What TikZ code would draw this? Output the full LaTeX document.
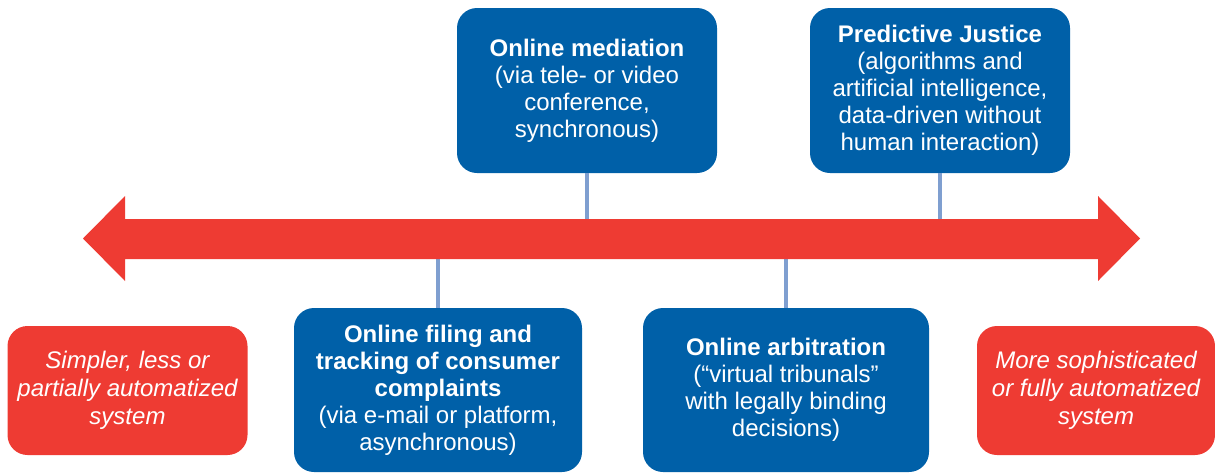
\documentclass[tikz,border=0pt]{standalone}
\usepackage{fontspec}
\setmainfont{Liberation Sans}
\definecolor{boxblue}{HTML}{0060A8}
\definecolor{arrowred}{HTML}{EE3B33}
\definecolor{connblue}{HTML}{7F9FD0}
\tikzset{
  bluebox/.style={fill=boxblue, rounded corners=20pt, text=white, align=center,
    font=\fontsize{24}{27}\selectfont, inner sep=0pt},
  redbox/.style={fill=arrowred, rounded corners=20pt, text=white, align=center,
    font=\fontsize{24}{28}\selectfont\itshape, inner sep=0pt},
  conn/.style={draw=connblue, line width=4pt}
}
\begin{document}
\begin{tikzpicture}[x=1pt,y=-1pt]
\useasboundingbox (0,0) rectangle (1215,472);
% boxes
\node[bluebox, minimum width=260pt, minimum height=165pt] (med) at (587,90.5)
  {\textbf{Online mediation}\\(via tele- or video\\conference,\\synchronous)};
\node[bluebox, minimum width=260pt, minimum height=165pt] (pred) at (940,90.5)
  {\textbf{Predictive Justice}\\(algorithms and\\artificial intelligence,\\data-driven without\\human interaction)};
\node[bluebox, minimum width=288pt, minimum height=164pt] (fil) at (438,390)
  {\textbf{Online filing and}\\\textbf{tracking of consumer}\\\textbf{complaints}\\(via e-mail or platform,\\asynchronous)};
\node[bluebox, minimum width=286pt, minimum height=164pt] (arb) at (786,390)
  {\textbf{Online arbitration}\\(“virtual tribunals”\\with legally binding\\decisions)};
\node[redbox, minimum width=240pt, minimum height=129pt] (simple) at (127.5,390.5)
  {Simpler, less or\\partially automatized\\system};
\node[redbox, minimum width=238pt, minimum height=129pt] (soph) at (1096,390.5)
  {More sophisticated\\or fully automatized\\system};
% arrow anchors
\coordinate (shafttop) at (0,225);
\coordinate (shaftbot) at (0,253);
% connectors
\draw[conn] (med.south) -- (med.south |- shafttop);
\draw[conn] (pred.south) -- (pred.south |- shafttop);
\draw[conn] (fil.north) -- (fil.north |- shaftbot);
\draw[conn] (arb.north) -- (arb.north |- shaftbot);
% double arrow
\fill[arrowred] (83,238.5) -- (125,196) -- (125,219) -- (1098,219) -- (1098,196)
  -- (1140,238.5) -- (1098,281) -- (1098,259) -- (125,259) -- (125,281) -- cycle;
\end{tikzpicture}
\end{document}
